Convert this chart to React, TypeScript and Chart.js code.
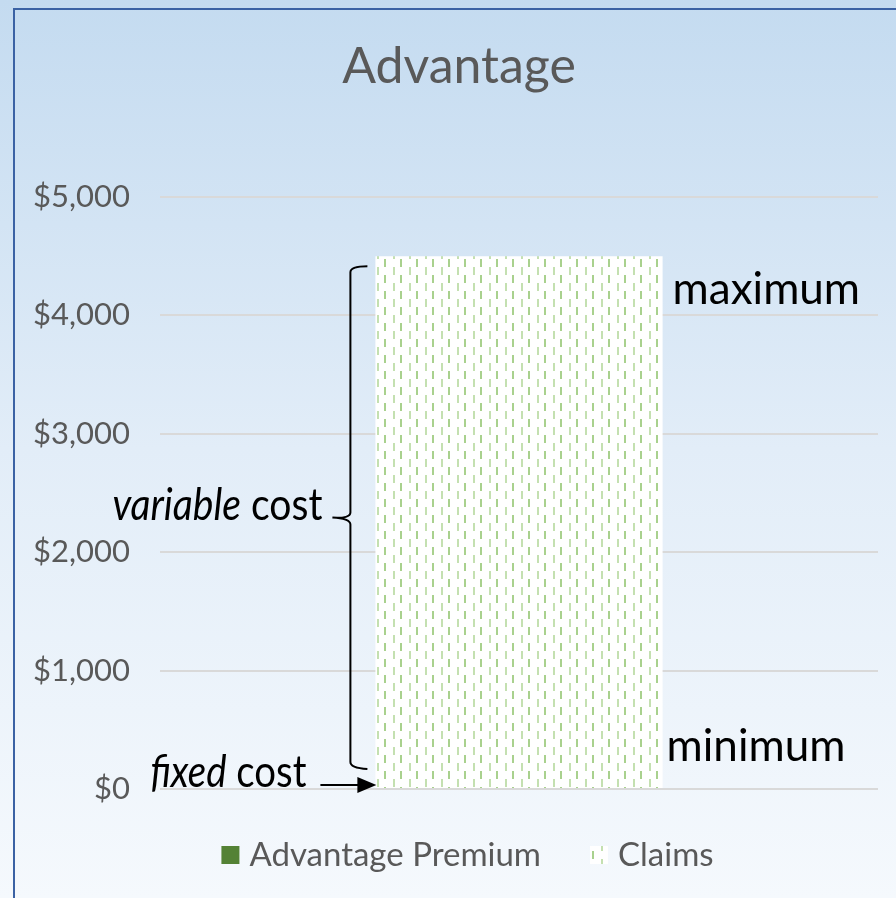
import React, { useEffect, useRef } from "react";
import { Chart, registerables } from "chart.js";

Chart.register(...registerables);

const categories = [""];
const premiumValues = [0];
const claimsValues = [4500];
const seriesLabels = ["Advantage Premium", "Claims"];
const seriesColors = ["#548235", "pattern"];
const yMax = 5000;
const yStep = 1000;
const titleText = "Advantage";

const FONT = "Lato";

function makePattern(): CanvasPattern | string {
  const c = document.createElement("canvas");
  c.width = 16;
  c.height = 16;
  const g = c.getContext("2d");
  if (!g) return "#ffffff";
  g.fillStyle = "#ffffff";
  g.fillRect(0, 0, 16, 16);
  g.fillStyle = "#a9d18e";
  g.fillRect(0, 3, 2, 8);
  g.fillStyle = "#c4e0b1";
  g.fillRect(9, 11, 2, 5);
  g.fillRect(9, 0, 2, 3);
  return g.createPattern(c, "repeat") || "#ffffff";
}

const titleLegendPlugin = {
  id: "titleLegend",
  afterDraw(chart: any) {
    const ctx: CanvasRenderingContext2D = chart.ctx;
    ctx.save();
    // title
    ctx.font = `50px ${FONT}`;
    ctx.fillStyle = "#595959";
    ctx.textAlign = "center";
    ctx.textBaseline = "middle";
    ctx.fillText(titleText, 459, 67);

    // legend
    ctx.font = `33px ${FONT}`;
    const box = 18;
    const gap = 10;
    const itemGap = 49;
    const widths = seriesLabels.map((l) => ctx.measureText(l).width);
    const total =
      widths.reduce((s, w) => s + box + gap + w, 0) + itemGap * (seriesLabels.length - 1);
    let x = 467.5 - total / 2;
    const cy = 855;
    ctx.textAlign = "left";
    seriesLabels.forEach((label, i) => {
      const ds = chart.data.datasets[i];
      ctx.fillStyle = ds.backgroundColor;
      ctx.fillRect(x, cy - box / 2, box, box);
      ctx.fillStyle = "#595959";
      ctx.fillText(label, x + box + gap, cy);
      x += box + gap + widths[i] + itemGap;
    });
    ctx.restore();
  },
};

const annotationPlugin = {
  id: "annotations",
  afterDraw(chart: any) {
    const ctx: CanvasRenderingContext2D = chart.ctx;
    const y = chart.scales.y;
    const bar: any = chart.getDatasetMeta(1).data[0];
    if (!bar) return;
    const left = bar.x - bar.width / 2;
    const right = bar.x + bar.width / 2;
    const total = premiumValues[0] + claimsValues[0];
    const yTop = y.getPixelForValue(total);
    const yBot = y.getPixelForValue(0);
    ctx.save();
    ctx.fillStyle = "#000000";
    ctx.strokeStyle = "#000000";
    ctx.textBaseline = "alphabetic";
    const size = 44;
    const normal = `${size}px ${FONT}`;
    const italic = `italic ${size}px ${FONT}`;
    ctx.font = normal;
    ctx.textAlign = "left";
    ctx.fillText("maximum", right + 10, yTop + 48);
    ctx.fillText("minimum", right + 4, yBot - 28);

    const mixed = (a: string, b: string, xRight: number, base: number, target: number) => {
      ctx.font = italic;
      const wa = ctx.measureText(a).width;
      ctx.font = normal;
      const wb = ctx.measureText(b).width;
      const sx = Math.max(0.85, Math.min(1, target / (wa + wb)));
      ctx.save();
      ctx.translate(xRight - (wa + wb) * sx, base);
      ctx.scale(sx, 1);
      ctx.textAlign = "left";
      ctx.font = italic;
      ctx.fillText(a, 0, 0);
      ctx.font = normal;
      ctx.fillText(b, wa, 0);
      ctx.restore();
    };
    const mid = (yTop + yBot) / 2;
    mixed("variable", " cost", left - 53, mid - 3, 210);
    mixed("fixed", " cost", left - 69, yBot - 2, 156);

    // brace
    const bx = left - 25;
    const t = yTop + 10;
    const b = yBot - 21;
    ctx.lineWidth = 2;
    ctx.beginPath();
    ctx.moveTo(bx + 17, t);
    ctx.quadraticCurveTo(bx, t, bx, t + 6);
    ctx.lineTo(bx, mid - 10);
    ctx.quadraticCurveTo(bx, mid - 4, bx - 18, mid - 5);
    ctx.quadraticCurveTo(bx, mid - 4, bx, mid + 2);
    ctx.lineTo(bx, b - 6);
    ctx.quadraticCurveTo(bx, b, bx + 17, b + 1);
    ctx.stroke();

    // arrow
    const ay = yBot - 4;
    ctx.beginPath();
    ctx.moveTo(left - 55, ay);
    ctx.lineTo(left - 16, ay);
    ctx.stroke();
    ctx.beginPath();
    ctx.moveTo(left + 1, ay);
    ctx.lineTo(left - 18, ay - 8);
    ctx.lineTo(left - 18, ay + 8);
    ctx.closePath();
    ctx.fill();
    ctx.restore();
  },
};

export default function App() {
  const ref = useRef<HTMLCanvasElement>(null);
  useEffect(() => {
    if (!ref.current) return;
    const pattern = makePattern();
    const chart = new Chart(ref.current, {
      type: "bar",
      data: {
        labels: categories,
        datasets: [
          {
            label: seriesLabels[0],
            data: premiumValues,
            backgroundColor: seriesColors[0],
            borderWidth: 0,
          },
          {
            label: seriesLabels[1],
            data: claimsValues,
            backgroundColor: pattern as any,
            borderWidth: 0,
          },
        ],
      },
      options: {
        responsive: false,
        animation: false,
        devicePixelRatio: 1,
        layout: { padding: { left: 0, right: 18, top: 197, bottom: 109 } },
        datasets: { bar: { barPercentage: 0.4, categoryPercentage: 1 } },
        scales: {
          x: { stacked: true, display: false },
          y: {
            stacked: true,
            min: 0,
            max: yMax,
            afterFit: (s: any) => {
              s.width = 160;
            },
            ticks: {
              stepSize: yStep,
              color: "#595959",
              font: { family: FONT, size: 31 },
              padding: 30,
              callback: (v: any) => "$" + Number(v).toLocaleString("en-US"),
            },
            grid: { color: "#d9d9d9", lineWidth: 2, drawTicks: false },
            border: { display: false },
          },
        },
        plugins: {
          title: { display: false },
          legend: { display: false },
          tooltip: { enabled: false },
        },
      },
      plugins: [titleLegendPlugin, annotationPlugin],
    });
    return () => chart.destroy();
  }, []);

  return (
    <div
      style={{
        position: "fixed",
        left: 0,
        top: 0,
        width: 896,
        height: 898,
        overflow: "hidden",
        background: "linear-gradient(to bottom, #c4dbf0 0%, #e2edf8 50%, #f5f9fd 100%)",
      }}
    >
      <div
        style={{
          position: "absolute",
          left: 13,
          top: 8,
          width: 1000,
          height: 1000,
          borderLeft: "2px solid #3b62a4",
          borderTop: "2px solid #3b62a4",
          boxSizing: "border-box",
        }}
      />
      <canvas
        ref={ref}
        width={896}
        height={898}
        style={{ position: "absolute", left: 0, top: 0, width: 896, height: 898 }}
      />
    </div>
  );
}
